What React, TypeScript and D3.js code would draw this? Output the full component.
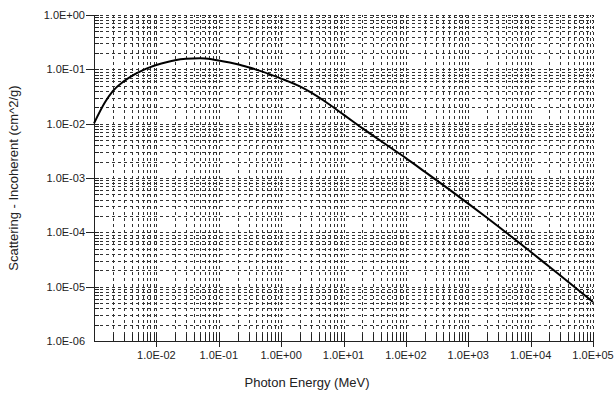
import { useEffect, useRef } from "react";
import * as d3 from "d3";

// photon energy (MeV) and incoherent scattering (cm^2/g)
const energies = [
  1e-3, 1.5e-3, 2e-3, 3e-3, 4e-3, 6e-3, 8e-3, 1e-2, 1.5e-2, 2e-2, 3e-2, 5e-2, 8e-2, 0.1, 0.15, 0.2, 0.3, 0.5,
  1, 2, 5, 10, 20, 50, 100, 200, 500, 1e3, 2e3, 5e3, 1e4, 2e4, 5e4, 1e5,
];
const incoherent = [
  0.0101, 0.0247, 0.0397, 0.060, 0.0752, 0.0957, 0.110, 0.1205, 0.137, 0.147, 0.156, 0.160, 0.152, 0.146, 0.1335,
  0.124, 0.109, 0.0908, 0.0675, 0.0484, 0.0259, 0.0147, 0.00826, 0.0040, 0.00232, 0.00131, 0.00061, 0.000338,
  0.000185, 0.000082, 0.0000439, 0.0000232, 0.00000998, 0.00000524,
];
const xTickValues = [1e-2, 1e-1, 1e0, 1e1, 1e2, 1e3, 1e4, 1e5];
const yTickValues = [1e-6, 1e-5, 1e-4, 1e-3, 1e-2, 1e-1, 1e0];

const W = 614;
const H = 394;
const FONT = "'Liberation Sans', Arial, sans-serif";

const fmt = (v: number) => {
  const e = Math.round(Math.log10(v));
  const sign = e < 0 ? "-" : "+";
  return `1.0E${sign}${String(Math.abs(e)).padStart(2, "0")}`;
};

// all 1..9 multiples of each decade within a domain
function logSteps(lo: number, hi: number) {
  const out: number[] = [];
  for (let k = Math.round(Math.log10(lo)); k < Math.round(Math.log10(hi)); k++) {
    for (let m = 1; m <= 9; m++) out.push(m * Math.pow(10, k));
  }
  out.push(hi);
  return out;
}

export default function App() {
  const svgRef = useRef<SVGSVGElement>(null);

  useEffect(() => {
    if (!svgRef.current) return;
    const svg = d3.select(svgRef.current);
    svg.selectAll("*").remove();

    const margin = { top: 15, right: 21, bottom: 53, left: 94 };
    const x = d3.scaleLog().domain([1e-3, 1e5]).range([margin.left, W - margin.right]);
    const y = d3.scaleLog().domain([1e-6, 1e0]).range([H - margin.bottom, margin.top]);
    const x0 = margin.left;
    const y0 = H - margin.bottom;

    const xs = logSteps(1e-3, 1e5);
    const ys = logSteps(1e-6, 1e0);

    // dashed grid
    const grid = svg.append("g").attr("stroke", "#333").attr("stroke-width", 1)
      .attr("stroke-dasharray", "3,3").attr("shape-rendering", "crispEdges");
    grid.selectAll("line.h")
      .data(ys.filter(v => v > 1e-6))
      .join("line")
      .attr("class", "h")
      .attr("x1", x0)
      .attr("x2", x(1e5))
      .attr("y1", d => Math.round(y(d)) + 0.5)
      .attr("y2", d => Math.round(y(d)) + 0.5);
    grid.selectAll("line.v")
      .data(xs.filter(v => v > 1e-3))
      .join("line")
      .attr("class", "v")
      .attr("y1", y0)
      .attr("y2", y(1e0))
      .attr("x1", d => Math.round(x(d)) + 0.5)
      .attr("x2", d => Math.round(x(d)) + 0.5);

    // axes lines
    const axes = svg.append("g").attr("stroke", "#222").attr("stroke-width", 1).attr("shape-rendering", "crispEdges");
    axes.append("line").attr("x1", x0 + 0.5).attr("x2", x0 + 0.5).attr("y1", y(1e0)).attr("y2", y0 + 0.5);
    axes.append("line").attr("x1", x0).attr("x2", x(1e5) + 1).attr("y1", y0 + 0.5).attr("y2", y0 + 0.5);

    const isMajor = (v: number) => Math.abs(Math.log10(v) - Math.round(Math.log10(v))) < 1e-9;

    // bottom ticks
    axes.selectAll("line.xt")
      .data(xs.filter(v => v > 1e-3))
      .join("line")
      .attr("class", "xt")
      .attr("x1", d => Math.round(x(d)) + 0.5)
      .attr("x2", d => Math.round(x(d)) + 0.5)
      .attr("y1", d => (isMajor(d) ? y0 - 8 : y0 - 7))
      .attr("y2", d => (isMajor(d) ? y0 + 6 : y0));

    // left ticks
    axes.selectAll("line.yt")
      .data(ys.filter(v => v > 1e-6))
      .join("line")
      .attr("class", "yt")
      .attr("y1", d => Math.round(y(d)) + 0.5)
      .attr("y2", d => Math.round(y(d)) + 0.5)
      .attr("x1", d => (isMajor(d) ? x0 - 8 : x0))
      .attr("x2", x0 + 5);

    // tick labels
    svg.selectAll("text.xl")
      .data(xTickValues)
      .join("text")
      .attr("class", "xl")
      .attr("x", d => x(d))
      .attr("y", y0 + 18)
      .attr("text-anchor", "middle")
      .attr("font-family", FONT)
      .attr("font-size", 11)
      .attr("fill", "#222")
      .text(fmt);

    svg.selectAll("text.yl")
      .data(yTickValues)
      .join("text")
      .attr("class", "yl")
      .attr("x", x0 - 9)
      .attr("y", d => y(d) + 4)
      .attr("text-anchor", "end")
      .attr("font-family", FONT)
      .attr("font-size", 11)
      .attr("fill", "#222")
      .text(fmt);

    // axis titles
    svg.append("text")
      .attr("x", W / 2)
      .attr("y", 387)
      .attr("text-anchor", "middle")
      .attr("font-family", FONT)
      .attr("font-size", 13)
      .attr("fill", "#222")
      .text("Photon Energy (MeV)");

    svg.append("text")
      .attr("transform", `translate(18,${(y(1e0) + y0) / 2}) rotate(-90)`)
      .attr("text-anchor", "middle")
      .attr("font-family", FONT)
      .attr("font-size", 13)
      .attr("fill", "#222")
      .text("Scattering - Incoherent (cm^2/g)");

    // curve
    const pts = energies.map((e, i) => [x(e), y(incoherent[i])] as [number, number]);
    svg.append("path")
      .attr("d", d3.line().curve(d3.curveMonotoneX)(pts))
      .attr("fill", "none")
      .attr("stroke", "#000")
      .attr("stroke-width", 2);
  }, []);

  return (
    <div style={{ position: "absolute", left: 0, top: 0 }}>
      <svg ref={svgRef} width={W} height={H} style={{ display: "block", background: "#fff" }} />
    </div>
  );
}
